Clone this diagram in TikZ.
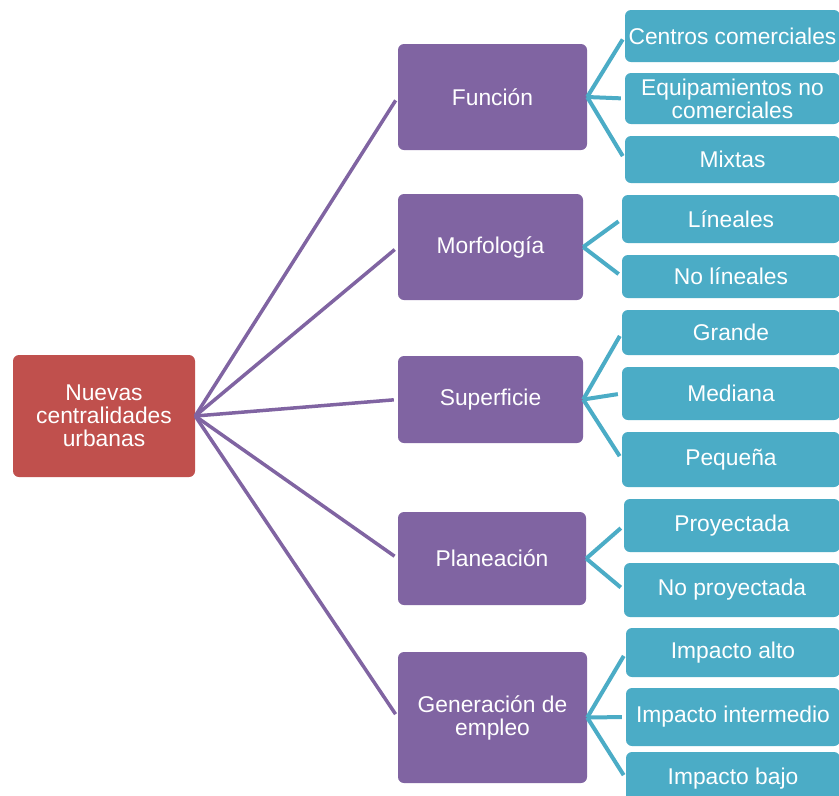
\documentclass[tikz,border=0pt]{standalone}
\usepackage{fontspec}
\setmainfont{Liberation Sans}
\definecolor{rootred}{HTML}{C0504D}
\definecolor{purp}{HTML}{8064A2}
\definecolor{cyanb}{HTML}{4BACC6}
\begin{document}
\begin{tikzpicture}[x=1pt,y=-1pt,
  box/.style={rounded corners=6pt, inner sep=0pt, text=white, align=center,
    font=\fontsize{22.8}{23}\selectfont},
  rootbox/.style={box, fill=rootred},
  pbox/.style={box, fill=purp},
  cbox/.style={box, fill=cyanb},
  pline/.style={draw=purp, line width=3.5pt, shorten >=4pt},
  cline/.style={draw=cyanb, line width=4pt, shorten >=4pt}]
\fill[white] (0,0) rectangle (839,796);
\clip (0,0) rectangle (839,796);
\useasboundingbox (0,0) rectangle (839,796);
% root
\node[rootbox, minimum width=182pt, minimum height=122pt] (root) at (104,416) {Nuevas\\centralidades\\urbanas};
% level 1
\node[pbox, minimum width=189pt, minimum height=106pt] (f) at (492.5,97) {Función};
\node[pbox, minimum width=185pt, minimum height=106pt] (mo) at (490.5,247) {Morfología};
\node[pbox, minimum width=185pt, minimum height=87pt] (su) at (490.5,399.5) {Superficie};
\node[pbox, minimum width=188pt, minimum height=93pt] (pl) at (492,558.5) {Planeación};
\node[pbox, minimum width=189pt, minimum height=131pt] (ge) at (492.5,717.5) {Generación de\\empleo};
% level 2
\node[cbox, minimum width=215pt, minimum height=52pt] (cc) at (732.5,36) {Centros comerciales};
\node[cbox, minimum width=215pt, minimum height=51pt] (eq) at (732.5,98.5) {Equipamientos no\\comerciales};
\node[cbox, minimum width=215pt, minimum height=47pt] (mx) at (732.5,159.5) {Mixtas};
\node[cbox, minimum width=218pt, minimum height=48pt] (li) at (731,219) {Líneales};
\node[cbox, minimum width=218pt, minimum height=43pt] (nl) at (731,276.5) {No líneales};
\node[cbox, minimum width=218pt, minimum height=45pt] (gr) at (731,332.5) {Grande};
\node[cbox, minimum width=218pt, minimum height=53pt] (me) at (731,393.5) {Mediana};
\node[cbox, minimum width=218pt, minimum height=55pt] (pe) at (731,459.5) {Pequeña};
\node[cbox, minimum width=216pt, minimum height=53pt] (pr) at (732,525.5) {Proyectada};
\node[cbox, minimum width=216pt, minimum height=54pt] (np) at (732,590) {No proyectada};
\node[cbox, minimum width=214pt, minimum height=49pt] (ia) at (733,652.5) {Impacto alto};
\node[cbox, minimum width=214pt, minimum height=58pt] (ii) at (733,717) {Impacto intermedio};
\node[cbox, minimum width=214pt, minimum height=53pt] (ib) at (733,778.5) {Impacto bajo};
% connectors root -> level 1
\foreach \t in {f,mo,su,pl,ge} \draw[pline] (root.east) -- (\t.west);
% connectors level 1 -> level 2
\foreach \t in {cc,eq,mx} \draw[cline] (f.east) -- (\t.west);
\foreach \t in {li,nl} \draw[cline] (mo.east) -- (\t.west);
\foreach \t in {gr,me,pe} \draw[cline] (su.east) -- (\t.west);
\foreach \t in {pr,np} \draw[cline] (pl.east) -- (\t.west);
\foreach \t in {ia,ii,ib} \draw[cline] (ge.east) -- (\t.west);
\end{tikzpicture}
\end{document}
